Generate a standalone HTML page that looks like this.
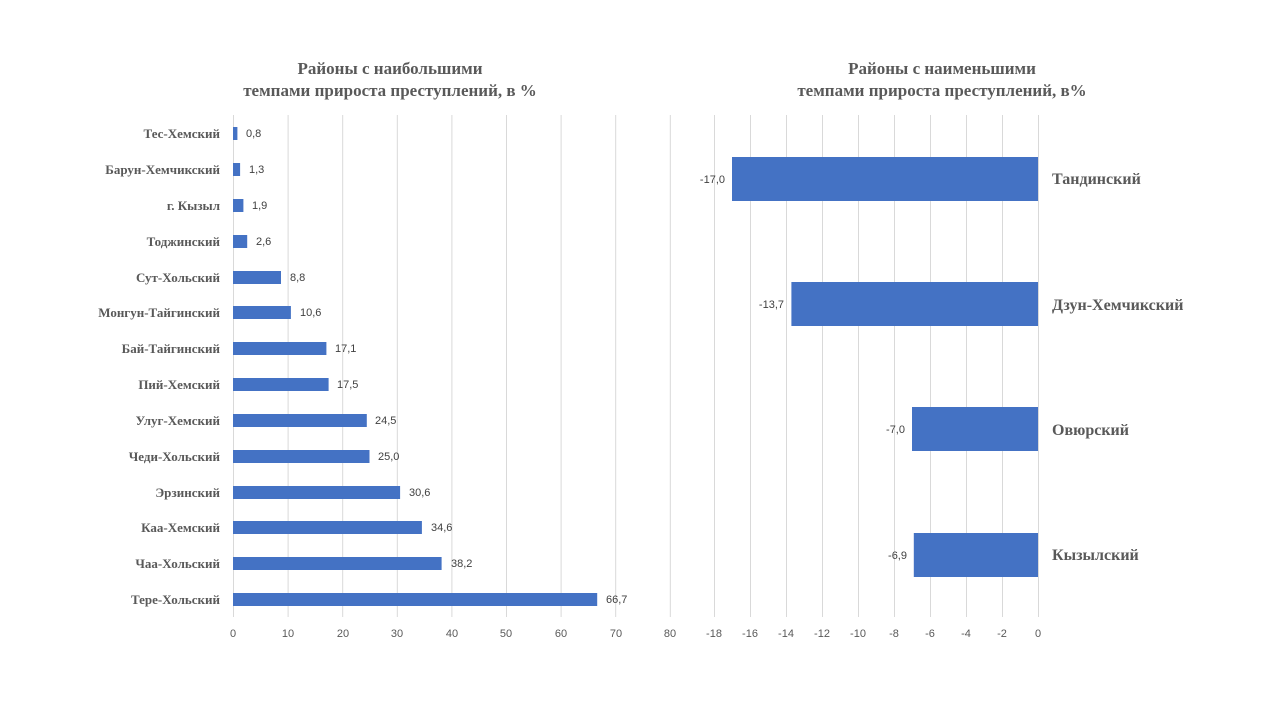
<!DOCTYPE html>
<html><head><meta charset="utf-8"><style>body{margin:0;background:#fff}svg{display:block}</style></head><body>
<svg width="1280" height="720" xmlns="http://www.w3.org/2000/svg">
<g font-family="Liberation Serif, serif" font-weight="bold" font-size="17" fill="#595959" text-anchor="middle">
<text x="390" y="74">Районы с наибольшими</text>
<text x="390" y="96">темпами прироста преступлений, в %</text>
<text x="942" y="74">Районы с наименьшими</text>
<text x="942" y="96">темпами прироста преступлений, в%</text>
</g>
<g stroke="#d9d9d9" stroke-width="1">
<line x1="233.5" y1="115" x2="233.5" y2="617"/><line x1="288.1" y1="115" x2="288.1" y2="617"/><line x1="342.7" y1="115" x2="342.7" y2="617"/><line x1="397.3" y1="115" x2="397.3" y2="617"/><line x1="451.9" y1="115" x2="451.9" y2="617"/><line x1="506.5" y1="115" x2="506.5" y2="617"/><line x1="561.1" y1="115" x2="561.1" y2="617"/><line x1="615.7" y1="115" x2="615.7" y2="617"/><line x1="670.3" y1="115" x2="670.3" y2="617"/>
<line x1="714.5" y1="115" x2="714.5" y2="617"/><line x1="750.5" y1="115" x2="750.5" y2="617"/><line x1="786.5" y1="115" x2="786.5" y2="617"/><line x1="822.5" y1="115" x2="822.5" y2="617"/><line x1="858.5" y1="115" x2="858.5" y2="617"/><line x1="894.5" y1="115" x2="894.5" y2="617"/><line x1="930.5" y1="115" x2="930.5" y2="617"/><line x1="966.5" y1="115" x2="966.5" y2="617"/><line x1="1002.5" y1="115" x2="1002.5" y2="617"/><line x1="1038.5" y1="115" x2="1038.5" y2="617"/>
</g>
<g font-family="Liberation Sans, sans-serif" font-size="11" fill="#595959" text-anchor="middle">
<text x="233" y="637">0</text><text x="288" y="637">10</text><text x="343" y="637">20</text><text x="397" y="637">30</text><text x="452" y="637">40</text><text x="506" y="637">50</text><text x="561" y="637">60</text><text x="616" y="637">70</text><text x="670" y="637">80</text>
<text x="714" y="637">-18</text><text x="750" y="637">-16</text><text x="786" y="637">-14</text><text x="822" y="637">-12</text><text x="858" y="637">-10</text><text x="894" y="637">-8</text><text x="930" y="637">-6</text><text x="966" y="637">-4</text><text x="1002" y="637">-2</text><text x="1038" y="637">0</text>
</g>
<g fill="#4472c4">
<rect x="233" y="127" width="4.4" height="13"/><rect x="233" y="163" width="7.1" height="13"/><rect x="233" y="199" width="10.4" height="13"/><rect x="233" y="235" width="14.2" height="13"/><rect x="233" y="271" width="48" height="13"/><rect x="233" y="306" width="57.9" height="13"/><rect x="233" y="342" width="93.4" height="13"/><rect x="233" y="378" width="95.6" height="13"/><rect x="233" y="414" width="133.8" height="13"/><rect x="233" y="450" width="136.5" height="13"/><rect x="233" y="486" width="167.1" height="13"/><rect x="233" y="521" width="188.9" height="13"/><rect x="233" y="557" width="208.6" height="13"/><rect x="233" y="593" width="364.2" height="13"/>
<rect x="732" y="157" width="306" height="44"/><rect x="791.4" y="282" width="246.6" height="44"/><rect x="912" y="407" width="126" height="44"/><rect x="913.8" y="533" width="124.2" height="44"/>
</g>
<g font-family="Liberation Sans, sans-serif" font-size="11" fill="#404040">
<text x="246" y="137">0,8</text><text x="249" y="173">1,3</text><text x="252" y="209">1,9</text><text x="256" y="245">2,6</text><text x="290" y="281">8,8</text><text x="300" y="316">10,6</text><text x="335" y="352">17,1</text><text x="337" y="388">17,5</text><text x="375" y="424">24,5</text><text x="378" y="460">25,0</text><text x="409" y="496">30,6</text><text x="431" y="531">34,6</text><text x="451" y="567">38,2</text><text x="606" y="603">66,7</text>
<g text-anchor="end"><text x="725" y="183">-17,0</text><text x="784" y="308">-13,7</text><text x="905" y="433">-7,0</text><text x="907" y="559">-6,9</text></g>
</g>
<g font-family="Liberation Serif, serif" font-weight="bold" font-size="13" fill="#595959" text-anchor="end">
<text x="220" y="138">Тес-Хемский</text><text x="220" y="174">Барун-Хемчикский</text><text x="220" y="210">г. Кызыл</text><text x="220" y="246">Тоджинский</text><text x="220" y="282">Сут-Хольский</text><text x="220" y="317">Монгун-Тайгинский</text><text x="220" y="353">Бай-Тайгинский</text><text x="220" y="389">Пий-Хемский</text><text x="220" y="425">Улуг-Хемский</text><text x="220" y="461">Чеди-Хольский</text><text x="220" y="497">Эрзинский</text><text x="220" y="532">Каа-Хемский</text><text x="220" y="568">Чаа-Хольский</text><text x="220" y="604">Тере-Хольский</text>
</g>
<g font-family="Liberation Serif, serif" font-weight="bold" font-size="16" fill="#595959">
<text x="1052" y="184">Тандинский</text><text x="1052" y="310">Дзун-Хемчикский</text><text x="1052" y="435">Овюрский</text><text x="1052" y="560">Кызылский</text>
</g>
</svg>
</body></html>
